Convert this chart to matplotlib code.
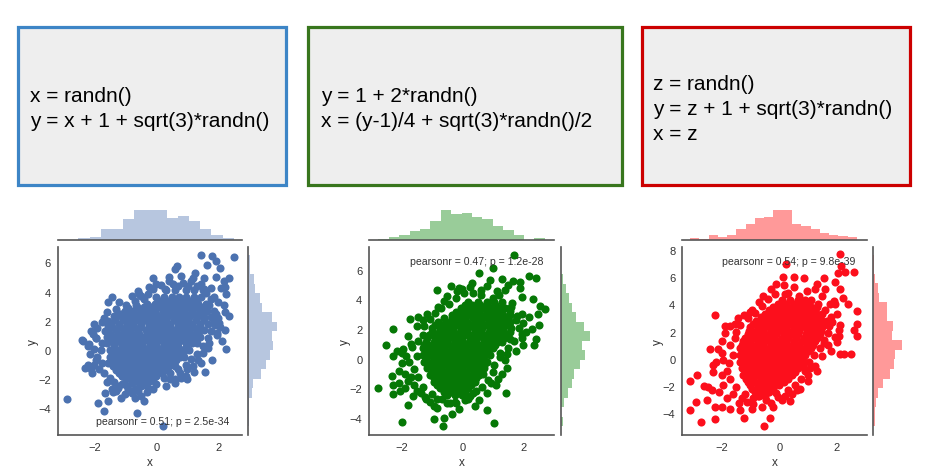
import numpy as np
import matplotlib
matplotlib.use("Agg")
import matplotlib.pyplot as plt
from matplotlib.patches import Rectangle

plt.rcParams['font.family'] = ['Liberation Sans', 'DejaVu Sans']

# ---------------------------------------------------------
# data
# ---------------------------------------------------------
box_texts = [
    "x = randn()\ny = x + 1 + sqrt(3)*randn()",
    "y = 1 + 2*randn()\nx = (y-1)/4 + sqrt(3)*randn()/2",
    "z = randn()\ny = z + 1 + sqrt(3)*randn()\nx = z",
]
notes = [
    "pearsonr = 0.51; p = 2.5e-34",
    "pearsonr = 0.47; p = 1.2e-28",
    "pearsonr = 0.54; p = 9.8e-39",
]

# panel 1 : dense core as rows (y, [x...]) plus loose points
core1 = [
    (4.1, [0.3, 0.6, 0.95, 1.2, 1.5]),
    (3.6, [0.0, 0.25, 0.5, 0.72, 0.95, 1.2, 1.45]),
    (3.38, [0.12, 0.38, 0.6, 0.85, 1.08, 1.32]),
    (3.15, [-0.3, -0.05, 0.2, 0.4, 0.65, 0.9, 1.1, 1.35, 1.6]),
    (2.92, [-0.62, -0.4, -0.18, 0.08, 0.3, 0.52, 0.78, 1.0, 1.25, 1.5]),
    (2.7, [-1.0, -0.75, -0.5, -0.3, -0.05, 0.2, 0.42, 0.65, 0.9, 1.15, 1.4, 1.62]),
    (2.48, [-1.15, -0.92, -0.68, -0.45, -0.22, 0.0, 0.25, 0.48, 0.72, 0.95, 1.2, 1.45]),
    (2.25, [-1.3, -1.05, -0.8, -0.55, -0.35, -0.1, 0.12, 0.35, 0.6, 0.85, 1.05, 1.3, 1.55, 1.75]),
    (2.02, [-1.32, -1.08, -0.85, -0.62, -0.38, -0.15, 0.1, 0.32, 0.58, 0.8, 1.02, 1.28, 1.52]),
    (1.8, [-1.45, -1.2, -0.95, -0.75, -0.5, -0.25, 0.0, 0.22, 0.45, 0.7, 0.92, 1.15, 1.4, 1.65]),
    (1.58, [-1.42, -1.18, -0.95, -0.72, -0.48, -0.25, 0.0, 0.22, 0.45, 0.7, 0.92, 1.18, 1.42]),
    (1.35, [-1.55, -1.3, -1.05, -0.85, -0.6, -0.35, -0.12, 0.1, 0.35, 0.58, 0.8, 1.05, 1.3, 1.55]),
    (1.12, [-1.48, -1.25, -1.0, -0.78, -0.55, -0.3, -0.08, 0.18, 0.4, 0.62, 0.88, 1.1, 1.3]),
    (0.9, [-1.6, -1.35, -1.12, -0.9, -0.65, -0.42, -0.2, 0.05, 0.28, 0.5, 0.75, 0.98, 1.2, 1.4]),
    (0.68, [-1.5, -1.25, -1.02, -0.8, -0.55, -0.32, -0.1, 0.12, 0.38, 0.6, 0.82, 1.05, 1.22]),
    (0.45, [-1.6, -1.38, -1.15, -0.92, -0.7, -0.45, -0.22, 0.0, 0.25, 0.48, 0.7, 0.95, 1.15, 1.3]),
    (0.22, [-1.38, -1.12, -0.88, -0.65, -0.42, -0.2, 0.02, 0.25, 0.48, 0.7, 0.95]),
    (0.0, [-1.5, -1.25, -1.0, -0.78, -0.55, -0.32, -0.1, 0.12, 0.35, 0.6, 0.82, 1.05]),
    (-0.22, [-1.38, -1.15, -0.92, -0.7, -0.48, -0.25, 0.0, 0.2, 0.42, 0.65, 0.85]),
    (-0.45, [-1.5, -1.28, -1.05, -0.82, -0.6, -0.38, -0.15, 0.08, 0.3, 0.55, 0.75, 0.9]),
    (-0.68, [-1.42, -1.18, -0.95, -0.72, -0.5, -0.28, -0.05, 0.18, 0.4, 0.62]),
    (-0.9, [-1.55, -1.3, -1.08, -0.85, -0.62, -0.4, -0.18, 0.05, 0.28, 0.5]),
    (-1.12, [-1.4, -1.18, -0.95, -0.72, -0.5, -0.28, -0.05, 0.18, 0.4]),
    (-1.35, [-1.3, -1.05, -0.82, -0.6, -0.38, -0.15, 0.08, 0.3]),
    (-1.58, [-1.2, -0.95, -0.72, -0.5, -0.28, -0.05, 0.18]),
    (-1.8, [-1.1, -0.88, -0.65, -0.42, -0.2, 0.0]),
    (-2.02, [-0.98, -0.75, -0.52, -0.3, -0.1]),
    (-2.25, [-0.8, -0.55, -0.32]),
]
loose1 = [
    (1.44, 6.47), (1.79, 6.42), (2.49, 6.38), (1.93, 6.1), (1.63, 5.8), (2.05, 5.6),
    (0.66, 5.76), (0.59, 5.53), (-0.11, 4.96), (0.8, 5.07), (1.18, 4.96), (1.55, 4.96),
    (1.93, 5.0), (2.35, 4.96), (2.19, 4.73), (0.16, 4.43), (0.53, 4.5), (0.27, 4.16),
    (1.02, 4.39), (1.44, 4.5), (1.76, 4.27), (2.09, 4.27), (-0.59, 4.05), (-0.27, 3.82),
    (-0.48, 3.7), (-0.8, 3.7), (-1.44, 3.66), (-1.57, 3.29), (-0.7, 3.36), (-0.99, 3.06),
    (2.25, 3.82), (1.76, 3.47), (2.17, 3.06), (1.93, 2.45), (2.35, 2.33), (2.03, 1.87),
    (1.96, 1.19), (1.34, 1.19), (1.66, 0.16), (2.25, 0.05), (1.79, -0.71), (1.57, -1.49),
    (1.18, -1.1), (0.96, -1.78), (0.8, -1.9), (0.61, -2.29), (0.29, -1.21), (0.59, -1.1),
    (-2.0, 1.81), (-2.37, 0.62), (-2.16, 0.39), (-1.95, 0.85), (-2.3, -1.21), (-2.09, -1.55),
    (-1.76, -0.87), (-2.87, -3.38), (-1.87, -3.61), (-1.57, -3.5), (-1.68, -4.18),
    (-1.64, -2.93), (-1.44, -2.7), (-1.23, -2.58), (-0.8, -2.93), (-0.7, -2.7),
    (-0.48, -3.15), (-0.27, -2.58), (-0.61, -4.3), (0.21, -5.21), (-1.55, 1.65),
    (-1.76, 0.5), (-1.44, -0.41), (-1.12, -1.78), (-0.7, -2.13),
    (-1.76, 1.9), (-1.55, 2.0), (-1.35, 2.3), (-1.2, 2.45), (-1.05, 2.4), (-0.85, 2.35),
    (-1.65, 1.3), (-1.95, 0.85), (-1.8, 0.0), (-2.0, 0.05), (-1.9, -0.5), (-2.0, -1.0),
    (-1.85, -1.3), (-1.7, -1.6), (-1.5, -1.9), (-1.35, -2.2), (-1.25, -2.5), (-0.95, -2.5),
    (-0.6, -2.8), (-0.35, -2.4), (-0.2, -2.1), (0.25, -1.9), (0.45, -1.6), (0.7, -1.3),
    (0.95, -1.0), (1.1, -0.6), (1.3, -0.3), (1.5, 0.3), (1.65, 0.8), (1.75, 1.3),
    (1.9, 1.7), (2.0, 2.2), (1.85, 2.7), (1.7, 3.1), (1.85, 3.6), (1.6, 3.9), (1.3, 4.4),
    (0.85, 4.6), (0.4, 4.7), (-0.1, 4.2), (-0.4, 3.5), (-0.65, 3.1), (-0.9, 2.9),
    (2.2, 1.4), (2.1, 0.6), (1.45, -0.9), (1.2, -1.5), (0.6, -2.0), (-0.1, -2.7),
    (-1.0, -3.0), (-0.7, -3.3), (-1.4, -2.9), (-2.2, -1.0), (-2.4, 0.7), (-2.1, 1.3),
    (1.0, -2.0),
    (-1.9, 1.5), (-1.7, 2.2), (-2.05, 1.1), (-2.2, 0.3), (-2.15, -0.3), (-1.95, -0.7),
    (-2.1, -1.3), (-1.6, -2.2), (-1.3, -2.8), (-1.1, -2.3), (-0.9, -2.7), (-0.5, -2.5),
    (-0.3, -2.9), (0.0, -2.3), (0.3, -2.5), (0.45, -2.0), (0.75, -1.6), (1.0, -1.3),
    (1.35, -0.7), (1.5, -0.2), (1.7, 0.5), (1.95, 1.0), (2.05, 1.55), (1.85, 2.0),
    (2.2, 2.6), (2.0, 3.3), (1.55, 4.2), (1.1, 4.7), (0.7, 4.35), (0.0, 4.5),
    (-0.25, 4.3), (-0.55, 3.8), (-1.2, 3.3), (-1.3, 2.8), (-1.6, 2.6), (0.4, 5.0),
    (1.25, 5.3), (2.2, 4.3), (-0.4, -3.5), (-1.15, -3.3),
]

# panel 2
core2 = [
    (3.85, [0.2, 0.5, 0.8, 1.05]),
    (3.62, [0.08, 0.32, 0.58, 0.82, 1.08]),
    (3.4, [-0.05, 0.2, 0.45, 0.7, 0.95, 1.2, 1.4]),
    (3.18, [-0.2, 0.05, 0.3, 0.55, 0.8, 1.05, 1.28]),
    (2.95, [-0.35, -0.1, 0.15, 0.38, 0.62, 0.85, 1.1, 1.35, 1.55]),
    (2.72, [-0.6, -0.35, -0.12, 0.1, 0.35, 0.58, 0.8, 1.02, 1.25, 1.45]),
    (2.5, [-0.8, -0.55, -0.3, -0.08, 0.15, 0.4, 0.62, 0.88, 1.1, 1.35, 1.55]),
    (2.28, [-0.9, -0.65, -0.42, -0.18, 0.05, 0.28, 0.52, 0.78, 1.0, 1.22, 1.48]),
    (2.05, [-1.0, -0.75, -0.52, -0.3, -0.05, 0.18, 0.42, 0.65, 0.9, 1.12, 1.35, 1.6]),
    (1.82, [-1.0, -0.78, -0.55, -0.3, -0.08, 0.15, 0.4, 0.62, 0.88, 1.1, 1.32, 1.55]),
    (1.6, [-1.1, -0.88, -0.65, -0.4, -0.18, 0.05, 0.3, 0.52, 0.75, 1.0, 1.22, 1.45]),
    (1.38, [-1.15, -0.9, -0.68, -0.45, -0.22, 0.0, 0.25, 0.48, 0.7, 0.95, 1.18, 1.38]),
    (1.15, [-1.2, -0.95, -0.72, -0.5, -0.25, 0.0, 0.22, 0.45, 0.7, 0.92, 1.15, 1.3]),
    (0.92, [-1.25, -1.0, -0.78, -0.55, -0.3, -0.08, 0.15, 0.38, 0.62, 0.85, 1.08]),
    (0.7, [-1.3, -1.05, -0.82, -0.6, -0.35, -0.12, 0.1, 0.35, 0.58, 0.8, 1.0]),
    (0.48, [-1.2, -0.98, -0.75, -0.5, -0.28, -0.05, 0.18, 0.42, 0.65, 0.85]),
    (0.25, [-1.3, -1.08, -0.85, -0.62, -0.4, -0.15, 0.08, 0.3, 0.52, 0.75, 0.9]),
    (0.02, [-1.2, -0.95, -0.72, -0.48, -0.25, -0.02, 0.22, 0.45, 0.68]),
    (-0.2, [-1.25, -1.0, -0.78, -0.55, -0.32, -0.1, 0.15, 0.38, 0.6, 0.8]),
    (-0.42, [-1.12, -0.88, -0.65, -0.42, -0.2, 0.05, 0.28, 0.5, 0.72]),
    (-0.65, [-1.15, -0.92, -0.7, -0.45, -0.22, 0.0, 0.25, 0.48, 0.7]),
    (-0.88, [-1.0, -0.78, -0.55, -0.32, -0.1, 0.12, 0.38, 0.6]),
    (-1.1, [-1.05, -0.82, -0.6, -0.38, -0.15, 0.08, 0.3, 0.55]),
    (-1.32, [-0.95, -0.72, -0.48, -0.25, -0.02, 0.22, 0.45]),
    (-1.55, [-0.95, -0.72, -0.5, -0.28, -0.05, 0.2, 0.42]),
    (-1.78, [-0.85, -0.62, -0.4, -0.18, 0.05, 0.28]),
    (-2.0, [-0.75, -0.5, -0.28, -0.05, 0.18]),
    (-2.22, [-0.62, -0.38, -0.15, 0.08]),
    (-2.45, [-0.5, -0.25, 0.0]),
]
loose2 = [
    (1.7, 6.97), (1.0, 6.13), (0.53, 5.75), (2.2, 5.57), (2.41, 5.46), (1.29, 5.39),
    (0.91, 5.3), (1.65, 5.24), (1.9, 5.17), (1.9, 4.79), (1.51, 4.94), (-0.84, 4.61),
    (-0.37, 4.9), (-0.1, 4.74), (0.25, 4.85), (0.34, 4.45), (0.8, 4.9), (1.13, 4.56),
    (1.95, 4.18), (2.33, 4.0), (1.62, 3.78), (2.55, 3.55), (2.72, 3.37), (2.5, 2.99),
    (2.53, 2.25), (2.42, 1.3), (1.95, 1.64), (1.79, 2.88), (-2.29, 2.02), (-2.51, 0.9),
    (-1.45, 2.83), (-1.72, 2.65), (-2.27, 0.18), (-2.16, 0.52), (-1.94, 0.63),
    (-2.76, -2.0), (-2.32, -1.17), (-2.27, -1.8), (-2.29, -2.4), (-2.05, -2.18),
    (-2.1, -1.62), (-1.78, -1.5), (-1.78, -3.12), (-1.61, -2.52), (-1.5, -2.18),
    (-1.23, -2.56), (-1.99, -4.27), (-0.95, -3.19), (-0.95, -4.09), (-0.65, -4.54),
    (-0.59, -3.98), (-0.35, -3.75), (-0.41, -2.97), (-0.84, -2.7), (-0.68, -2.74),
    (0.2, -2.74), (0.25, -2.52), (0.36, -2.29), (0.8, -3.46), (1.04, -4.31), (1.44, -2.34),
    (0.94, -1.66), (1.18, -1.39), (0.69, -1.06), (1.46, 0.29), (1.22, 0.36), (1.57, 1.3),
    (-0.19, 4.56),
    (-1.5, 2.2), (-1.3, 2.6), (-1.15, 3.0), (-0.9, 3.1), (-0.7, 3.4), (-0.45, 3.7),
    (-0.2, 4.1), (0.05, 4.4), (0.6, 4.3), (1.0, 4.1), (1.3, 3.8), (1.55, 3.2), (1.75, 2.6),
    (1.85, 2.1), (1.7, 1.2), (1.5, 0.7), (1.25, 0.1), (1.05, -0.4), (1.0, -0.9),
    (0.85, -1.4), (0.65, -1.9), (0.45, -2.2), (0.1, -2.8), (-0.25, -2.9), (-0.55, -2.4),
    (-1.0, -2.4), (-1.3, -1.9), (-1.45, -1.2), (-1.6, -0.7), (-1.75, -0.2), (-1.5, 0.2),
    (-1.65, 0.8), (-1.45, 1.2), (-1.3, 1.6), (-1.9, -1.0), (-2.0, 0.4), (-1.2, -2.7),
    (1.45, -0.6), (2.0, 0.9), (2.1, 1.8), (2.2, 2.8), (0.3, 5.1), (1.4, 4.6), (-0.6, 3.9),
    (-0.85, -3.3), (0.55, -2.8),
    (-2.0, -0.3), (-1.85, 0.2), (-2.1, -0.8), (-1.7, -1.2), (-1.6, -1.8), (-1.9, -2.0),
    (-1.35, -2.3), (-1.7, 1.0), (-1.8, 1.5), (-1.25, 2.2), (-1.05, 2.7), (-0.8, 3.5),
    (-0.5, 4.2), (0.0, 4.7), (0.6, 4.6), (1.2, 4.3), (1.6, 3.5), (1.95, 3.0), (2.0, 2.4),
    (1.95, 1.4), (1.75, 0.5), (1.4, -0.1), (1.3, -1.0), (1.1, -1.8), (0.8, -2.3),
    (0.4, -3.2), (-0.1, -3.4), (-0.5, -3.0), (-1.05, -2.9), (-0.2, -3.0), (2.3, 2.0),
    (2.35, 0.95),
]

# panel 3
core3 = [
    (4.3, [0.1, 0.38, 0.65, 0.9]),
    (4.05, [-0.05, 0.22, 0.5, 0.75, 1.0]),
    (3.8, [-0.2, 0.05, 0.3, 0.58, 0.85, 1.1, 1.3]),
    (3.55, [-0.35, -0.1, 0.15, 0.42, 0.7, 0.95, 1.2]),
    (3.3, [-0.5, -0.25, 0.0, 0.28, 0.55, 0.8, 1.05, 1.3, 1.5]),
    (3.05, [-0.65, -0.4, -0.15, 0.12, 0.4, 0.65, 0.9, 1.15, 1.38]),
    (2.8, [-0.8, -0.55, -0.3, -0.05, 0.22, 0.48, 0.72, 0.98, 1.22, 1.45, 1.65]),
    (2.55, [-0.9, -0.65, -0.4, -0.15, 0.1, 0.35, 0.62, 0.88, 1.12, 1.35, 1.58]),
    (2.3, [-1.0, -0.75, -0.5, -0.25, 0.0, 0.25, 0.5, 0.75, 1.0, 1.25, 1.5]),
    (2.05, [-1.05, -0.8, -0.55, -0.3, -0.05, 0.2, 0.45, 0.7, 0.95, 1.2, 1.45]),
    (1.8, [-1.1, -0.85, -0.6, -0.35, -0.1, 0.15, 0.4, 0.65, 0.92, 1.18, 1.4]),
    (1.55, [-1.18, -0.92, -0.68, -0.42, -0.18, 0.08, 0.32, 0.58, 0.85, 1.1, 1.32]),
    (1.3, [-1.25, -1.0, -0.75, -0.5, -0.25, 0.0, 0.25, 0.5, 0.78, 1.02, 1.25]),
    (1.05, [-1.3, -1.05, -0.8, -0.55, -0.3, -0.05, 0.2, 0.45, 0.7, 0.95, 1.18]),
    (0.8, [-1.35, -1.1, -0.85, -0.6, -0.35, -0.1, 0.15, 0.4, 0.65, 0.9, 1.1]),
    (0.55, [-1.22, -0.98, -0.72, -0.48, -0.22, 0.02, 0.28, 0.52, 0.78, 1.0]),
    (0.3, [-1.35, -1.1, -0.85, -0.6, -0.35, -0.1, 0.15, 0.4, 0.65, 0.9]),
    (0.05, [-1.22, -0.98, -0.72, -0.48, -0.22, 0.02, 0.28, 0.52, 0.78]),
    (-0.2, [-1.35, -1.1, -0.85, -0.6, -0.35, -0.1, 0.15, 0.4, 0.65, 0.85]),
    (-0.45, [-1.2, -0.95, -0.7, -0.45, -0.2, 0.05, 0.3, 0.55, 0.75]),
    (-0.7, [-1.3, -1.05, -0.8, -0.55, -0.3, -0.05, 0.2, 0.45, 0.65]),
    (-0.95, [-1.15, -0.9, -0.65, -0.4, -0.15, 0.1, 0.35, 0.55]),
    (-1.2, [-1.25, -1.0, -0.75, -0.5, -0.25, 0.0, 0.25, 0.45]),
    (-1.45, [-1.15, -0.9, -0.65, -0.4, -0.15, 0.1, 0.32]),
    (-1.7, [-1.1, -0.85, -0.6, -0.35, -0.1, 0.15]),
    (-1.95, [-1.0, -0.75, -0.5, -0.25, 0.0]),
    (-2.2, [-0.95, -0.7, -0.45, -0.2]),
    (-2.45, [-0.85, -0.6, -0.35]),
    (-2.7, [-0.75, -0.5]),
]
loose3 = [
    (2.1, 7.65), (2.16, 6.8), (0.24, 6.92), (2.27, 6.36), (2.59, 6.36), (2.03, 6.26),
    (0.13, 6.01), (0.87, 5.94), (1.57, 5.92), (1.95, 5.65), (0.15, 5.38), (-0.28, 5.09),
    (-0.14, 4.77), (0.21, 4.77), (1.25, 5.13), (1.6, 5.13), (2.12, 5.09), (1.89, 4.23),
    (2.21, 4.47), (1.95, 3.99), (-2.23, 3.18), (-1.88, 2.44), (-1.53, 2.59), (-1.24, 3.18),
    (-0.83, 3.37), (-2.4, 0.73), (-2.13, 0.73), (-2.31, -0.42), (-3.1, -1.64),
    (-2.86, -1.22), (-2.49, -2.08), (-2.34, -2.32), (-2.89, -3.18), (-3.1, -3.77),
    (-2.72, -4.65), (-2.25, -3.52), (-2.25, -4.4), (-1.99, -3.52), (-1.7, -3.67),
    (-1.36, -3.72), (-1.22, -4.33), (-1.12, -3.18), (-0.95, -3.67), (-0.54, -4.94),
    (-0.31, -4.33), (-0.46, -3.03), (-0.72, -2.74), (0.09, -2.98), (0.38, -3.06),
    (0.73, -2.2), (-0.1, -2.49), (1.31, -0.9), (0.79, 0.15), (0.82, -0.54), (1.08, -0.66),
    (1.54, 1.17), (2.06, 2.08), (2.06, 1.66), (2.12, 0.32), (2.24, 0.32), (2.49, 0.32),
    (2.59, 2.15), (2.7, 2.52), (2.7, 1.71), (2.7, 3.5), (1.72, 2.4),
    (-1.5, 2.0), (-1.35, 2.5), (-1.1, 3.0), (-0.95, 3.6), (-0.6, 3.9), (-0.4, 4.4),
    (-0.55, 4.6), (0.3, 4.8), (0.7, 4.6), (1.1, 4.3), (1.35, 4.0), (1.6, 3.6), (1.8, 3.1),
    (1.85, 2.7), (1.7, 1.9), (1.55, 1.4), (1.4, 0.8), (1.2, 0.3), (1.05, -0.2),
    (0.9, -0.9), (0.75, -1.5), (0.55, -1.9), (0.3, -2.3), (-0.05, -2.8), (0.2, -2.7),
    (-0.3, -3.2), (-0.9, -2.9), (-1.2, -2.6), (-1.5, -2.1), (-1.7, -1.5), (-1.8, -0.9),
    (-1.75, -0.3), (-1.6, 0.3), (-1.7, 1.0), (-1.55, 1.5), (-2.0, -1.2), (-2.1, -2.4),
    (-1.8, -2.9), (-1.4, -3.2), (-2.0, 0.4), (-2.2, -0.2), (-2.6, -2.0), (1.8, 0.6),
    (2.0, 1.2), (1.0, -1.2), (1.5, 2.8),
    (-1.9, 1.9), (-2.0, 1.3), (-1.95, -0.1), (-2.3, -1.0), (-1.95, -1.9), (-1.6, -2.6),
    (-1.3, -2.9), (-0.9, -3.3), (-0.6, -3.5), (-0.2, -3.5), (0.45, -2.6), (0.6, -2.3),
    (1.0, -1.6), (1.25, -0.5), (1.5, 0.2), (1.7, 1.0), (1.95, 1.6), (2.1, 2.5), (2.0, 3.3),
    (1.75, 4.0), (1.5, 4.6), (0.95, 5.0), (0.5, 5.3), (-0.1, 5.5), (-0.7, 4.2),
    (-1.0, 3.4), (-1.45, 3.0), (-1.7, 2.4), (0.5, 6.0), (1.3, 5.5), (2.4, 4.0),
    (-2.5, -3.0),
]

# marginal histograms: (first edge, last edge, counts)
xhist1 = (-2.51, 2.49, [3, 6, 26, 26, 49, 69, 71, 69, 52, 56, 44, 25, 12, 5])
yhist1 = (-5.21, 6.49, [1, 2, 2, 8, 10, 29, 41, 49, 57, 54, 67, 54, 31, 27, 16, 12, 3, 3])
xhist2 = (-2.76, 2.71, [2, 7, 10, 20, 26, 45, 71, 60, 64, 53, 50, 33, 24, 10, 0, 5])
yhist2 = (-4.54, 6.98, [4, 0, 8, 16, 27, 31, 45, 56, 49, 68, 53, 35, 27, 19, 13, 5, 1, 1])
xhist3 = (-3.1, 2.7, [3, 2, 10, 7, 12, 25, 37, 52, 54, 71, 71, 37, 32, 26, 16, 10, 8, 6])
yhist3 = (-4.94, 7.64, [3, 4, 6, 12, 22, 39, 49, 50, 68, 43, 45, 33, 31, 13, 10, 5, 1, 1])

xlims = [(-3.18, 2.75), (-3.06, 3.02), (-3.37, 3.04)]
ylims = [(-5.8, 7.07), (-5.12, 7.55), (-5.56, 8.22)]
yticks = [[-4, -2, 0, 2, 4, 6], [-4, -2, 0, 2, 4, 6], [-4, -2, 0, 2, 4, 6, 8]]
xticks = [-2, 0, 2]

colors = ["#4c72b0", "#067806", "#fc0f1c"]
hist_colors = ["#4c72b0", "#008000", "#ff0000"]
box_edges = ["#3d85c6", "#38761d", "#cc0000"]

# ---------------------------------------------------------
# layout (pixel boxes, measured on the reference)
# ---------------------------------------------------------
W, H = 933, 477
fig = plt.figure(figsize=(W / 100, H / 100), dpi=100)


def px_axes(left, top, right, bottom):
    return fig.add_axes([left / W, 1 - bottom / H, (right - left) / W, (bottom - top) / H])


box_px = [(18.3, 28.3, 286, 186), (308.3, 28.3, 621.7, 186), (641.7, 28.3, 910, 186)]
text_px = [(30, 109), (321, 109), (653, 109.5)]
for (l, t, r, b), ec, txt, (tx, ty) in zip(box_px, box_edges, box_texts, text_px):
    fig.patches.append(Rectangle((l / W, 1 - b / H), (r - l) / W, (b - t) / H,
                                 transform=fig.transFigure, facecolor="#eeeeee",
                                 edgecolor=ec, linewidth=2.3))
    fig.text(tx / W, 1 - ty / H, txt, fontsize=15, ha="left", va="center",
             linespacing=1.42, color="black")

main_px = [(57.7, 241.7), (369.3, 554.3), (682.3, 866.7)]
note_pos = [(0.208, 0.074), (0.22, 0.925), (0.217, 0.925)]
cores = [core1, core2, core3]
looses = [loose1, loose2, loose3]
xhists = [xhist1, xhist2, xhist3]
yhists = [yhist1, yhist2, yhist3]
top, bottom = 247.7, 435.7
spine_c = "#555555"

for i in range(3):
    left, right = main_px[i]
    ax = px_axes(left, top, right, bottom)
    axx = px_axes(left, 203.7, right, 240.7)
    axy = px_axes(right + 6.6, top, right + 43.6, bottom)

    pts = [(x, y) for y, xs in cores[i] for x in xs] + looses[i]
    px_, py_ = np.array(pts).T
    ax.scatter(px_, py_, s=34, color=colors[i], linewidths=0, zorder=2)

    ax.set_xlim(*xlims[i])
    ax.set_ylim(*ylims[i])
    ax.set_xticks(xticks)
    ax.set_yticks(yticks[i])
    ax.tick_params(length=0, labelsize=8, colors="#333333", pad=5)
    ax.set_xlabel("x", fontsize=8.5, color="#333333", labelpad=3)
    ax.set_ylabel("y", fontsize=8.5, color="#333333", labelpad=-1)
    for s in ["top", "right"]:
        ax.spines[s].set_visible(False)
    for s in ["left", "bottom"]:
        ax.spines[s].set_color(spine_c)
        ax.spines[s].set_linewidth(1.2)
    ax.text(note_pos[i][0], note_pos[i][1], notes[i], transform=ax.transAxes,
            fontsize=7.6, color="#333333", va="center", ha="left", zorder=5)

    # top marginal
    x0, x1, cnt = xhists[i]
    edges = np.linspace(x0, x1, len(cnt) + 1)
    axx.bar(edges[:-1], cnt, width=np.diff(edges), align="edge",
            color=hist_colors[i], alpha=0.4, linewidth=0)
    axx.set_xlim(*xlims[i])
    axx.set_ylim(0, max(cnt) * 1.23)
    axx.set_xticks([])
    axx.set_yticks([])
    for s in ["top", "right", "left"]:
        axx.spines[s].set_visible(False)
    axx.spines["bottom"].set_color(spine_c)
    axx.spines["bottom"].set_linewidth(1.2)
    axx.patch.set_alpha(0)

    # right marginal
    y0, y1, cnt = yhists[i]
    edges = np.linspace(y0, y1, len(cnt) + 1)
    axy.barh(edges[:-1], cnt, height=np.diff(edges), align="edge",
             color=hist_colors[i], alpha=0.4, linewidth=0)
    axy.set_ylim(*ylims[i])
    axy.set_xlim(0, max(cnt) * 1.27)
    axy.set_xticks([])
    axy.set_yticks([])
    for s in ["top", "right", "bottom"]:
        axy.spines[s].set_visible(False)
    axy.spines["left"].set_color(spine_c)
    axy.spines["left"].set_linewidth(1.2)
    axy.patch.set_alpha(0)

fig.savefig("out.png", dpi=100)
